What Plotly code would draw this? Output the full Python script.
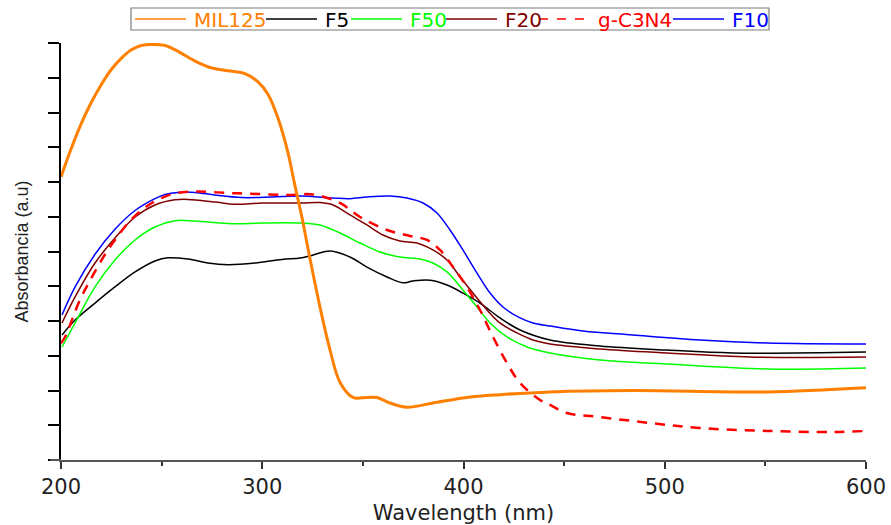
import plotly.graph_objects as go

# ---- data ----
mil125_x = [200, 205.0, 209.9, 214.9, 219.9, 224.8, 229.8, 234.8, 239.8, 245.2, 251.7, 258.1, 266.6, 275.0,
            283.0, 291.4, 297.9, 302.9, 307.8, 312.8, 316.0, 319.8, 323.7, 328.7, 333.7, 338.6, 345.1, 352.1,
            357.0, 363.5, 371.9, 384.8, 401.7, 418.1, 443.0, 484.2, 550.8, 600]
mil125_y = [2.036, 2.237, 2.414, 2.568, 2.698, 2.806, 2.888, 2.950, 2.982, 2.990, 2.982, 2.94, 2.87, 2.82,
            2.80, 2.78, 2.72, 2.63, 2.46, 2.21, 1.99, 1.74, 1.45, 1.10, 0.79, 0.56, 0.45, 0.45,
            0.45, 0.41, 0.38, 0.41, 0.45, 0.47, 0.49, 0.50, 0.49, 0.52]

f10_x = [200.5, 207.0, 216.9, 226.8, 236.8, 246.7, 251.7, 258.1, 266.6, 276.5, 289.9, 304.8, 318.8, 335.2,
         343.6, 352.0, 363.5, 371.9, 379.9, 386.8, 393.3, 399.7, 406.7, 413.2, 419.6, 428.1, 434.5, 443.0,
         459.4, 484.2, 517.5, 550.8, 600]
f10_y = [1.043, 1.245, 1.480, 1.660, 1.795, 1.880, 1.910, 1.925, 1.925, 1.906, 1.888, 1.892, 1.900, 1.885,
         1.880, 1.892, 1.899, 1.885, 1.849, 1.777, 1.655, 1.511, 1.345, 1.201, 1.101, 1.022, 0.986, 0.964,
         0.928, 0.899, 0.863, 0.842, 0.835]

f20_x = [200.5, 207.0, 216.9, 226.8, 236.8, 246.7, 256.6, 263.1, 276.5, 286.5, 299.9, 318.8, 328.7, 335.2,
         343.6, 352.0, 360.0, 368.4, 376.9, 384.8, 391.8, 398.3, 404.7, 411.7, 418.1, 426.6, 434.5, 443.0,
         467.8, 501.1, 542.4, 600]
f20_y = [0.986, 1.173, 1.417, 1.597, 1.748, 1.835, 1.872, 1.875, 1.856, 1.840, 1.849, 1.849, 1.852, 1.835,
         1.763, 1.691, 1.619, 1.576, 1.561, 1.511, 1.439, 1.317, 1.201, 1.079, 0.986, 0.914, 0.863, 0.835,
         0.799, 0.770, 0.741, 0.741]

f50_x = [200.5, 207.0, 216.9, 226.8, 236.8, 246.7, 256.6, 266.6, 285.0, 299.9, 318.8, 328.7, 338.6, 348.6,
         358.5, 368.4, 378.4, 384.8, 391.8, 399.7, 406.7, 413.2, 421.6, 431.6, 443.0, 467.8, 501.1, 550.8, 600]
f50_y = [0.813, 0.986, 1.245, 1.439, 1.583, 1.676, 1.722, 1.719, 1.700, 1.705, 1.705, 1.691, 1.633, 1.561,
         1.496, 1.460, 1.446, 1.417, 1.353, 1.223, 1.101, 0.986, 0.885, 0.813, 0.770, 0.719, 0.691, 0.655, 0.662]

f5_x = [200.5, 207.0, 216.9, 226.8, 236.8, 246.7, 253.2, 263.1, 273.0, 283.0, 296.4, 309.8, 318.8, 323.7,
        333.7, 343.6, 352.0, 362.0, 369.9, 374.9, 383.4, 391.8, 399.7, 408.2, 418.1, 428.1, 443.0, 467.8,
        501.1, 533.9, 600]
f5_y = [0.899, 1.007, 1.129, 1.245, 1.353, 1.432, 1.455, 1.446, 1.417, 1.405, 1.417, 1.443, 1.453, 1.468,
        1.504, 1.460, 1.388, 1.317, 1.275, 1.288, 1.293, 1.259, 1.201, 1.129, 1.022, 0.935, 0.863, 0.820,
        0.791, 0.770, 0.777]

gc3n4_x = [200, 202.0, 209.4, 215.4, 221.9, 226.8, 233.3, 240.2, 245.2, 251.7, 258.1, 268.1, 283.0, 297.9,
           312.8, 325.2, 338.6, 348.6, 362.0, 373.4, 381.9, 388.3, 394.8, 401.7, 408.2, 414.7, 421.6, 428.1,
           438.0, 443.0, 451.4, 467.8, 492.7, 517.5, 550.8, 583.6, 600]
gc3n4_y = [0.84, 0.885, 1.151, 1.317, 1.480, 1.583, 1.705, 1.799, 1.849, 1.895, 1.922, 1.932, 1.921, 1.914,
           1.906, 1.910, 1.849, 1.748, 1.655, 1.612, 1.583, 1.511, 1.388, 1.245, 1.079, 0.885, 0.698, 0.554,
           0.432, 0.396, 0.338, 0.309, 0.266, 0.230, 0.209, 0.201, 0.209]

x_ticks = [200, 300, 400, 500, 600]

series = [
    # name, x, y, color, width, dash
    ("F5", f5_x, f5_y, "#000000", 1.5, "solid"),
    ("F50", f50_x, f50_y, "#00FF00", 1.5, "solid"),
    ("F20", f20_x, f20_y, "#800000", 1.5, "solid"),
    ("F10", f10_x, f10_y, "#0000FF", 1.5, "solid"),
    ("g-C3N4", gc3n4_x, gc3n4_y, "#FF0000", 2.5, "10px,8px"),
    ("MIL125", mil125_x, mil125_y, "#FF8000", 3, "solid"),
]
style = {s[0]: s for s in series}

# legend layout (order and placement in the page, pixels)
legend_order = ["MIL125", "F5", "F50", "F20", "g-C3N4", "F10"]
legend_line_x0 = [135, 266, 351, 446, 539, 673]
legend_line_len = 51
legend_text_gap = 6
legend_box = (131, 769, 8, 30)
legend_yc = 19

# plot area in pixels
PL, PR, PT, PB = 61, 866, 43, 460
W, H = 891, 525


def px_x(px):
    return (px - PL) / (PR - PL)


def px_y(py):
    return (PB - py) / (PB - PT)


fig = go.Figure()
for name, xs, ys, col, w, dash in series:
    fig.add_trace(go.Scatter(
        x=xs, y=ys, mode="lines", name=name, showlegend=False,
        line=dict(color=col, width=w, dash=dash, shape="spline", smoothing=1.0),
    ))

shapes = []
annotations = []
# small extension of the x-axis line to the left of the y-axis, as in the reference
shapes.append(dict(type="line", xref="paper", yref="paper",
                   x0=px_x(50), x1=px_x(PL), y0=0, y1=0,
                   line=dict(color="#555", width=2), layer="above"))
bx0, bx1, by0, by1 = legend_box
shapes.append(dict(type="rect", xref="paper", yref="paper",
                   x0=px_x(bx0), x1=px_x(bx1), y0=px_y(by1), y1=px_y(by0),
                   line=dict(color="#7a7a7a", width=1.2), fillcolor="white", layer="above"))
for name, lx in zip(legend_order, legend_line_x0):
    _, _, _, col, _, dash = style[name]
    shapes.append(dict(type="line", xref="paper", yref="paper",
                       x0=px_x(lx), x1=px_x(lx + legend_line_len), y0=px_y(legend_yc), y1=px_y(legend_yc),
                       line=dict(color=col, width=1.5, dash="dash" if dash != "solid" else "solid"),
                       layer="above"))
    annotations.append(dict(xref="paper", yref="paper", x=px_x(lx + legend_line_len + legend_text_gap),
                            y=px_y(legend_yc + 1), xanchor="left", yanchor="middle", showarrow=False,
                            text=name, font=dict(family="DejaVu Sans", size=20, color=col)))

fig.update_layout(
    width=W, height=H,
    margin=dict(l=PL, r=W - PR, t=PT, b=H - PB, autoexpand=False),
    paper_bgcolor="white", plot_bgcolor="white",
    font=dict(family="DejaVu Sans", size=21, color="#222"),
    showlegend=False,
    shapes=shapes,
    annotations=annotations,
    xaxis=dict(
        range=[200, 600], tickvals=x_ticks, ticktext=[str(v) for v in x_ticks],
        showline=True, linecolor="#555", linewidth=2, mirror=False, automargin=False,
        ticks="outside", ticklen=7, tickwidth=1.5, tickcolor="#333",
        minor=dict(dtick=50, ticks="outside", ticklen=4, tickcolor="#333", tickwidth=1.5),
        showgrid=False, zeroline=False,
        tickfont=dict(family="DejaVu Sans", size=21, color="#222"),
        title=dict(text="Wavelength (nm)", font=dict(family="DejaVu Sans", size=21, color="#222"), standoff=14),
    ),
    yaxis=dict(
        range=[0, 3], dtick=0.25, tick0=0, showticklabels=False, automargin=False,
        showline=True, linecolor="#000", linewidth=2,
        ticks="outside", ticklen=11, tickwidth=1.5, tickcolor="#000",
        showgrid=False, zeroline=False,
        title=dict(text="Absorbancia (a.u)", font=dict(family="Liberation Sans", size=18, color="#222"), standoff=15),
    ),
)

fig.write_html("out.html")
